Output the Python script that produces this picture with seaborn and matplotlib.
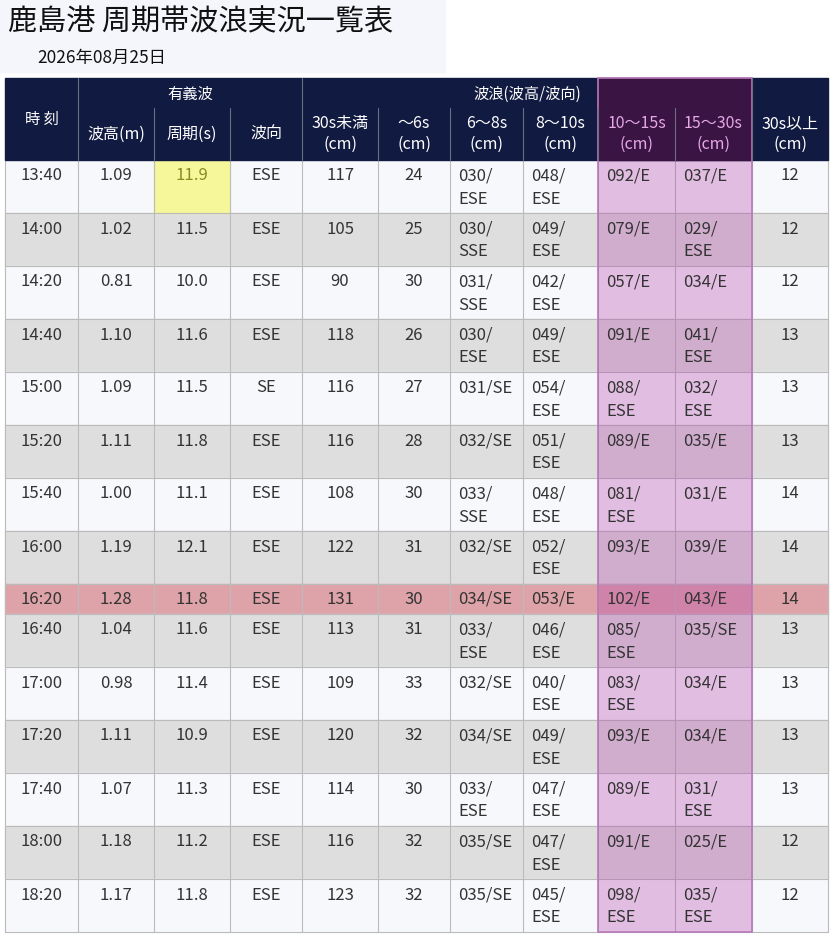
import matplotlib
matplotlib.use('Agg')
import matplotlib.pyplot as plt
import seaborn as sns
from matplotlib.patches import Rectangle

sns.set_theme(style='white')
plt.rcParams['font.family'] = ['Noto Sans CJK JP', 'DejaVu Sans']

title = '鹿島港 周期帯波浪実況一覧表'
date = '2026年08月25日'
times = ['13:40', '14:00', '14:20', '14:40', '15:00', '15:20', '15:40', '16:00',
         '16:20', '16:40', '17:00', '17:20', '17:40', '18:00', '18:20']
height = ['1.09', '1.02', '0.81', '1.10', '1.09', '1.11', '1.00', '1.19',
          '1.28', '1.04', '0.98', '1.11', '1.07', '1.18', '1.17']
period = ['11.9', '11.5', '10.0', '11.6', '11.5', '11.8', '11.1', '12.1',
          '11.8', '11.6', '11.4', '10.9', '11.3', '11.2', '11.8']
direction = ['ESE', 'ESE', 'ESE', 'ESE', 'SE', 'ESE', 'ESE', 'ESE',
             'ESE', 'ESE', 'ESE', 'ESE', 'ESE', 'ESE', 'ESE']
under30 = ['117', '105', '90', '118', '116', '116', '108', '122',
           '131', '113', '109', '120', '114', '116', '123']
to6 = ['24', '25', '30', '26', '27', '28', '30', '31', '30', '31', '33', '32', '30', '32', '32']
b6_8 = ['030/ESE', '030/SSE', '031/SSE', '030/ESE', '031/SE', '032/SE', '033/SSE', '032/SE',
        '034/SE', '033/ESE', '032/SE', '034/SE', '033/ESE', '035/SE', '035/SE']
b8_10 = ['048/ESE', '049/ESE', '042/ESE', '049/ESE', '054/ESE', '051/ESE', '048/ESE', '052/ESE',
         '053/E', '046/ESE', '040/ESE', '049/ESE', '047/ESE', '047/ESE', '045/ESE']
b10_15 = ['092/E', '079/E', '057/E', '091/E', '088/ESE', '089/E', '081/ESE', '093/E',
          '102/E', '085/ESE', '083/ESE', '093/E', '089/E', '091/E', '098/ESE']
b15_30 = ['037/E', '029/ESE', '034/E', '041/ESE', '032/ESE', '035/E', '031/E', '039/E',
          '043/E', '035/SE', '034/E', '034/E', '031/ESE', '025/E', '035/ESE']
over30 = ['12', '12', '12', '13', '13', '13', '14', '14', '14', '13', '13', '13', '13', '12', '12']
sub_headers = ['波高(m)', '周期(s)', '波向', '30s未満\n(cm)', '～6s\n(cm)', '6～8s\n(cm)',
               '8～10s\n(cm)', '10～15s\n(cm)', '15～30s\n(cm)', '30s以上\n(cm)']

xs = [5, 78, 154, 230, 302, 378, 450, 523, 598, 675, 752, 828]
row_h = [53] * 8 + [30] + [53] * 6
navy = '#111a40'
text_c = '#333333'

fig = plt.figure(figsize=(8.3, 9.34), dpi=100)
ax = fig.add_axes([0, 0, 1, 1])
ax.set_xlim(0, 830)
ax.set_ylim(934, 0)
ax.axis('off')

ax.add_patch(Rectangle((0, 0), 445, 72, color='#f4f6fb', zorder=0))
ax.text(8, 22, title, fontsize=21, va='center', ha='left', color='#111111')
ax.text(37, 58, date, fontsize=12.5, va='center', ha='left', color='#111111')

# rows
cols = [times, height, period, direction, under30, to6, b6_8, b8_10, b10_15, b15_30, over30]
y = 160
for r in range(len(times)):
    h = row_h[r]
    if times[r] == '16:20':
        bg = '#dea3a8'
    elif r % 2 == 1:
        bg = '#dedede'
    else:
        bg = '#f7f8fb'
    ax.add_patch(Rectangle((xs[0], y), xs[-1] - xs[0], h, color=bg, zorder=1))
    if r == 0:
        ax.add_patch(Rectangle((xs[2], y), xs[3] - xs[2], h, color='#f5f79a', zorder=1.5))
    ax.plot([xs[0], xs[-1]], [y + h, y + h], color='#bbbbbb', lw=0.8, zorder=3)
    for c, vals in enumerate(cols):
        v = vals[r]
        x0, x1 = xs[c], xs[c + 1]
        ty = y + 16 if h > 40 else y + h / 2
        color = '#8a8a20' if (r == 0 and c == 2) else text_c
        if '/' in v:
            a, b = v.split('/')
            if len(v) <= 6 and (h < 40 or c in (6, 7) and b == 'SE' or b in ('E', 'SE')):
                ax.text(x0 + 8, ty, v, fontsize=12, ha='left', va='center', color=color, zorder=5)
            else:
                ax.text(x0 + 8, ty, a + '/', fontsize=12, ha='left', va='center', color=color, zorder=5)
                ax.text(x0 + 8, ty + 23, b, fontsize=12, ha='left', va='center', color=color, zorder=5)
        else:
            ax.text((x0 + x1) / 2, ty, v, fontsize=12, ha='center', va='center', color=color, zorder=5)
    y += h

for x in xs:
    ax.plot([x, x], [160, y], color='#bbbbbb', lw=0.8, zorder=3)

# highlighted band columns (body)
ax.add_patch(Rectangle((xs[8], 160), xs[10] - xs[8], y - 160, facecolor='#b03aa8', alpha=0.3,
                       edgecolor='none', zorder=4))
ax.add_patch(Rectangle((xs[8], 78), xs[10] - xs[8], y - 78, facecolor='none',
                       edgecolor='#b878b8', lw=1.2, zorder=7))

# header
ax.add_patch(Rectangle((xs[0], 78), xs[-1] - xs[0], 82, color=navy, zorder=6))
ax.add_patch(Rectangle((xs[8], 78), xs[10] - xs[8], 82, color='#3a1442', zorder=6.5))
ax.text((xs[0] + xs[1]) / 2, 119, '時 刻', color='white', fontsize=11, ha='center', va='center', zorder=8)
ax.text((xs[1] + xs[4]) / 2, 94, '有義波', color='white', fontsize=11, ha='center', va='center', zorder=8)
ax.text((xs[4] + xs[10]) / 2, 94, '波浪(波高/波向)', color='white', fontsize=11, ha='center', va='center', zorder=8)
for i, h in enumerate(sub_headers):
    cx = (xs[i + 1] + xs[i + 2]) / 2
    col = '#e6a8e6' if i in (7, 8) else 'white'
    ax.text(cx, 134, h, color=col, fontsize=11.5, ha='center', va='center', linespacing=1.25, zorder=8)
for x in xs[1:-1]:
    y0 = 78 if x in (78, 302, 752) else 108
    ax.plot([x, x], [y0, 160], color='#6a6f88', lw=0.8, zorder=7)

fig.savefig('out.png', dpi=100)
